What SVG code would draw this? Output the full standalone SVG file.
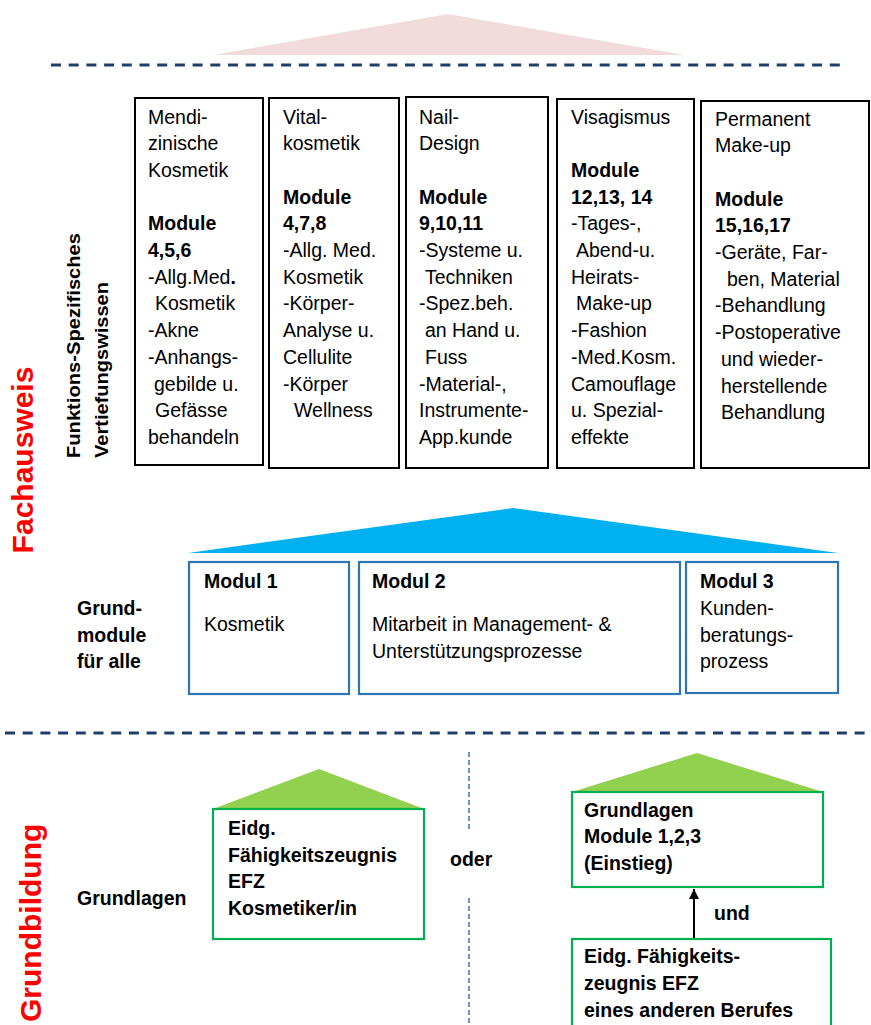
<svg xmlns="http://www.w3.org/2000/svg" width="871" height="1025" viewBox="0 0 871 1025">
<defs>
<style>
text{font-family:"Liberation Sans",Arial,sans-serif;fill:#000}
.t{font-size:19.5px}
.b{font-size:19.5px;font-weight:bold}
.red{font-size:30px;font-weight:bold;fill:#FF0000}
.rot{font-size:19px;font-weight:bold}
.kbox{fill:#fff;stroke:#000;stroke-width:2}
.bbox{fill:#fff;stroke:#2E75B6;stroke-width:2.2}
.gbox{fill:#fff;stroke:#00B050;stroke-width:2.2}
.dash{stroke:#1F3F6A;stroke-width:3;stroke-dasharray:10 7.7;fill:none}
.vdash{stroke:#2E75B6;stroke-width:1.5;stroke-dasharray:5 3;fill:none}
</style>
<marker id="ah" viewBox="0 0 10 10" refX="10" refY="5" markerWidth="5" markerHeight="5" orient="auto" markerUnits="strokeWidth">
<path d="M0,0 L10,5 L0,10 z" fill="#000"/>
</marker>
</defs>
<rect width="871" height="1025" fill="#fff"/>

<g id="top-roof"><polygon points="213,55 448,14 685,55" fill="#F2DCDB"/></g>
<g id="separators">
<line class="dash" x1="51" y1="65" x2="843" y2="65"/>
<line class="dash" x1="5" y1="733" x2="868" y2="733"/>
<line class="vdash" x1="469" y1="752" x2="469" y2="829"/>
<line class="vdash" x1="469" y1="898" x2="469" y2="1025"/>
</g>

<g id="label-fachausweis"><text class="red" transform="translate(33,460) rotate(-90)" text-anchor="middle">Fachausweis</text></g>
<g id="label-grundbildung"><text class="red" transform="translate(41,1022) rotate(-90)">Grundbildung</text></g>
<g id="label-vertiefung">
<text class="rot" transform="translate(80,458) rotate(-90)" textLength="225" lengthAdjust="spacingAndGlyphs">Funktions-Spezifisches</text>
<text class="rot" transform="translate(108,458) rotate(-90)" textLength="176" lengthAdjust="spacingAndGlyphs">Vertiefungswissen</text>
</g>

<g id="box-med">
<rect class="kbox" x="135" y="98" width="128" height="367"/>
<text class="t" x="148" y="123.5">Mendi-</text>
<text class="t" x="148" y="150.2">zinische</text>
<text class="t" x="148" y="176.9">Kosmetik</text>
<text class="b" x="148" y="230.3">Module</text>
<text class="b" x="148" y="257">4,5,6</text>
<text class="t" x="148" y="283.7">-Allg.Med<tspan font-weight="bold">.</tspan></text>
<text class="t" x="155" y="310.4">Kosmetik</text>
<text class="t" x="148" y="337.1">-Akne</text>
<text class="t" x="148" y="363.8">-Anhangs-</text>
<text class="t" x="154" y="390.5">gebilde u.</text>
<text class="t" x="155" y="417.2">Gefässe</text>
<text class="t" x="148" y="443.9">behandeln</text>
</g>

<g id="box-vital">
<rect class="kbox" x="269" y="98" width="130" height="370"/>
<text class="t" x="283" y="123.5">Vital-</text>
<text class="t" x="283" y="150.2">kosmetik</text>
<text class="b" x="283" y="203.6">Module</text>
<text class="b" x="283" y="230.3">4,7,8</text>
<text class="t" x="283" y="257">-Allg. Med.</text>
<text class="t" x="283" y="283.7">Kosmetik</text>
<text class="t" x="283" y="310.4">-Körper-</text>
<text class="t" x="283" y="337.1">Analyse u.</text>
<text class="t" x="283" y="363.8">Cellulite</text>
<text class="t" x="283" y="390.5">-Körper</text>
<text class="t" x="294" y="417.2">Wellness</text>
</g>

<g id="box-nail">
<rect class="kbox" x="406" y="97" width="142" height="371"/>
<text class="t" x="419" y="123.5">Nail-</text>
<text class="t" x="419" y="150.2">Design</text>
<text class="b" x="419" y="203.6">Module</text>
<text class="b" x="419" y="230.3">9,10,11</text>
<text class="t" x="419" y="257">-Systeme u.</text>
<text class="t" x="425" y="283.7">Techniken</text>
<text class="t" x="419" y="310.4">-Spez.beh.</text>
<text class="t" x="425" y="337.1">an Hand u.</text>
<text class="t" x="425" y="363.8">Fuss</text>
<text class="t" x="419" y="390.5">-Material-,</text>
<text class="t" x="419" y="417.2">Instrumente-</text>
<text class="t" x="419" y="443.9">App.kunde</text>
</g>

<g id="box-visag">
<rect class="kbox" x="557" y="99" width="137" height="369"/>
<text class="t" x="571" y="123.5">Visagismus</text>
<text class="b" x="571" y="176.9">Module</text>
<text class="b" x="571" y="203.6">12,13, 14</text>
<text class="t" x="571" y="230.3">-Tages-,</text>
<text class="t" x="576" y="257">Abend-u.</text>
<text class="t" x="571" y="283.7">Heirats-</text>
<text class="t" x="576" y="310.4">Make-up</text>
<text class="t" x="571" y="337.1">-Fashion</text>
<text class="t" x="571" y="363.8">-Med.Kosm.</text>
<text class="t" x="571" y="390.5">Camouflage</text>
<text class="t" x="571" y="417.2">u. Spezial-</text>
<text class="t" x="571" y="443.9">effekte</text>
</g>

<g id="box-pmu">
<rect class="kbox" x="701" y="101" width="168" height="367"/>
<text class="t" x="715" y="125.5">Permanent</text>
<text class="t" x="715" y="152.2">Make-up</text>
<text class="b" x="715" y="205.6">Module</text>
<text class="b" x="715" y="232.3">15,16,17</text>
<text class="t" x="715" y="259">-Geräte, Far-</text>
<text class="t" x="727" y="285.7">ben, Material</text>
<text class="t" x="715" y="312.4">-Behandlung</text>
<text class="t" x="715" y="339.1">-Postoperative</text>
<text class="t" x="721" y="365.8">und wieder-</text>
<text class="t" x="721" y="392.5">herstellende</text>
<text class="t" x="721" y="419.2">Behandlung</text>
</g>

<g id="blue-roof"><polygon points="188,553 513,508 838,553" fill="#00B0F0"/></g>

<g id="label-grundmodule">
<text class="b" x="77" y="615">Grund-</text>
<text class="b" x="77" y="642">module</text>
<text class="b" x="77" y="668">für alle</text>
</g>

<g id="modul1">
<rect class="bbox" x="189" y="562" width="160" height="132"/>
<text class="b" x="204" y="588">Modul 1</text>
<text class="t" x="204" y="631">Kosmetik</text>
</g>
<g id="modul2">
<rect class="bbox" x="359" y="562" width="321" height="132"/>
<text class="b" x="372" y="588">Modul 2</text>
<text class="t" x="372" y="631">Mitarbeit in Management- &amp;</text>
<text class="t" x="372" y="658">Unterstützungsprozesse</text>
</g>
<g id="modul3">
<rect class="bbox" x="686" y="562" width="152" height="131"/>
<text class="b" x="700" y="588">Modul 3</text>
<text class="t" x="700" y="615">Kunden-</text>
<text class="t" x="700" y="642">beratungs-</text>
<text class="t" x="700" y="668">prozess</text>
</g>

<g id="label-grundlagen"><text class="b" x="77" y="905">Grundlagen</text></g>

<g id="efz-kosmetiker">
<polygon points="213,809 319,769 424,809" fill="#92D050"/>
<rect class="gbox" x="213" y="809" width="211" height="130"/>
<text class="b" x="228" y="835">Eidg.</text>
<text class="b" x="228" y="862">Fähigkeitszeugnis</text>
<text class="b" x="228" y="888">EFZ</text>
<text class="b" x="228" y="915">Kosmetiker/in</text>
</g>

<g id="label-oder"><text class="b" x="450" y="866" font-size="22px">oder</text></g>

<g id="grundlagen-einstieg">
<polygon points="572,792 697,753 823,792" fill="#92D050"/>
<rect class="gbox" x="572" y="792" width="251" height="95"/>
<text class="b" x="584" y="817">Grundlagen</text>
<text class="b" x="584" y="843">Module 1,2,3</text>
<text class="b" x="584" y="870">(Einstieg)</text>
</g>

<g id="efz-anderer">
<rect class="gbox" x="572" y="939" width="259" height="100"/>
<text class="b" x="584" y="963">Eidg. Fähigkeits-</text>
<text class="b" x="584" y="990">zeugnis EFZ</text>
<text class="b" x="584" y="1017">eines anderen Berufes</text>
</g>

<g id="connectors">
<line x1="694" y1="938" x2="694" y2="889" stroke="#000" stroke-width="2" marker-end="url(#ah)"/>
</g>
<g id="label-und"><text class="b" x="714" y="920" font-size="22px">und</text></g>
</svg>
